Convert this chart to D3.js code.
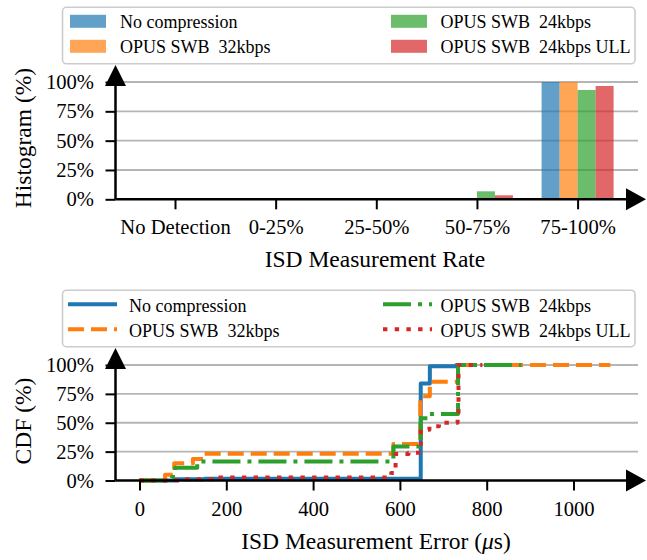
<!DOCTYPE html>
<html lang="en">
<head>
<meta charset="UTF-8">
<script src="https://d3js.org/d3.v7.min.js"></script>
<title>ISD measurement</title>
<style>
    body { margin: 0; background: white; }
    svg text { font-family: "Liberation Serif", "Times New Roman", serif; fill: black; }
</style>
</head>
<body>
<svg id="chart"></svg>
<script>
// ---- data ----
const seriesNames = ["No compression", "OPUS SWB  32kbps", "OPUS SWB  24kbps", "OPUS SWB  24kbps ULL"];
const categories = ["No Detection", "0-25%", "25-50%", "50-75%", "75-100%"];

// histogram of measurement rate (%)
const histNoComp = [0, 0, 0, 0, 100];
const hist32 = [0, 0, 0, 0, 100];
const hist24 = [0, 0, 0, 6.8, 93.2];
const hist24Ull = [0, 0, 0, 3.4, 96.6];

// CDF step points: [error in us, cdf %]
const cdfNoComp = [[0, 0], [80, 1], [150, 1.5], [648, 84], [669, 99], [730, 100], [732, 100]];
const cdf32 = [[0, 0], [59, 5], [80, 15], [123, 18.6], [147, 23.2], [585, 31.6], [647, 73], [669, 85.5], [734, 100], [1085, 100]];
const cdf24 = [[0, 0], [75, 3], [82, 11], [133, 16.5], [585, 29.5], [648, 53.8], [669, 57.6], [734, 100], [880, 100]];
const cdf24Ull = [[0, 0], [100, 1], [170, 2.5], [580, 6.5], [590, 23], [620, 24], [648, 44], [668, 47], [690, 50], [733, 54], [735, 100], [790, 100]];

const yTicks = [0, 25, 50, 75, 100];
const xTicksCdf = [0, 200, 400, 600, 800, 1000];

const colors = ["#1f77b4", "#ff7f0e", "#2ca02c", "#d62728"];
const dashes = [null, "16,7", "28,7,4,7", "4.4,7.3"];

const w = 647, h = 560;
const svg = d3.select("#chart").attr("width", w).attr("height", h);

const gridColor = "#b5b5b5";

function drawGrid(x0, yScale) {
    svg.append("g").selectAll("line")
        .data(yTicks.slice(1))
        .join("line")
        .attr("x1", x0).attr("x2", 638)
        .attr("y1", d => yScale(d)).attr("y2", d => yScale(d))
        .attr("stroke", gridColor).attr("stroke-width", 1.8);
}

function drawArrows(x0, y0, topTip, rightTip) {
    svg.append("line").attr("x1", x0).attr("x2", x0).attr("y1", y0).attr("y2", topTip + 10)
        .attr("stroke", "black").attr("stroke-width", 2.5);
    svg.append("line").attr("x1", x0).attr("x2", rightTip - 10).attr("y1", y0).attr("y2", y0)
        .attr("stroke", "black").attr("stroke-width", 2.5);
    svg.append("path")
        .attr("d", `M${x0},${topTip} L${x0 - 10.5},${topTip + 21} L${x0 + 10.5},${topTip + 21} Z`)
        .attr("fill", "black");
    svg.append("path")
        .attr("d", `M${rightTip},${y0} L${rightTip - 20},${y0 - 11} L${rightTip - 20},${y0 + 11} Z`)
        .attr("fill", "black");
}

function styleAxis(g) {
    g.select(".domain").remove();
    g.selectAll(".tick line").attr("stroke", "black").attr("stroke-width", 2);
    g.selectAll(".tick text").style("font-size", "20.6px").attr("fill", "black");
}

function legend(y0, kind) {
    const g = svg.append("g");
    g.append("rect")
        .attr("x", 62.5).attr("y", y0).attr("width", 572.5).attr("height", 56.5)
        .attr("rx", 4).attr("fill", "white").attr("fill-opacity", 0.8)
        .attr("stroke", "#cccccc").attr("stroke-width", 1.6);
    seriesNames.forEach((name, i) => {
        const col = (i === 0 || i === 1) ? 0 : 1;
        const row = (i === 0 || i === 2) ? 0 : 1;
        const rowY = y0 + 14 + row * 25;
        if (kind === "patch") {
            const px = col === 0 ? 70 : 391;
            g.append("rect").attr("x", px).attr("y", rowY - 6.5).attr("width", 36).attr("height", 13)
                .attr("fill", colors[i]).attr("fill-opacity", 0.7);
            g.append("text").attr("x", col === 0 ? 120 : 440.5).attr("y", rowY + 7)
                .style("font-size", "18px").style("white-space", "pre").text(name);
        } else {
            const px = col === 0 ? 68 : 383;
            g.append("line").attr("x1", px).attr("x2", px + 49).attr("y1", rowY).attr("y2", rowY)
                .attr("stroke", colors[i]).attr("stroke-width", 4)
                .attr("stroke-dasharray", dashes[i]);
            g.append("text").attr("x", col === 0 ? 129 : 440.5).attr("y", rowY + 7.5)
                .style("font-size", "18px").style("white-space", "pre").text(name);
        }
    });
}

// ---- top: histogram ----
const xTop = d3.scalePoint().domain(categories).range([175, 577.6]);
const yTop = d3.scaleLinear().domain([0, 100]).range([199.3, 82]);
const barW = 18;
const histSeries = [histNoComp, hist32, hist24, hist24Ull];

drawGrid(115.5, yTop);

histSeries.forEach((vals, i) => {
    svg.append("g").selectAll("rect")
        .data(vals.map((v, j) => ({ cat: categories[j], v: v })).filter(d => d.v > 0))
        .join("rect")
        .attr("x", d => xTop(d.cat) + (i - 2) * barW)
        .attr("width", barW)
        .attr("y", d => yTop(d.v))
        .attr("height", d => yTop(0) - yTop(d.v))
        .attr("fill", colors[i]).attr("fill-opacity", 0.7);
});

const gyTop = svg.append("g").attr("transform", "translate(115.5,0)")
    .call(d3.axisLeft(yTop).tickValues(yTicks).tickSize(10).tickPadding(11.5).tickFormat(d => d + "%"));
styleAxis(gyTop);
const gxTop = svg.append("g").attr("transform", `translate(0,${yTop(0)})`)
    .call(d3.axisBottom(xTop).tickSize(10).tickPadding(10));
styleAxis(gxTop);

drawArrows(115.5, yTop(0), 65, 646);

svg.append("text").attr("x", 375).attr("y", 267).attr("text-anchor", "middle")
    .style("font-size", "23.5px").text("ISD Measurement Rate");
svg.append("text").attr("transform", "translate(31,138) rotate(-90)").attr("text-anchor", "middle")
    .style("font-size", "23.5px").text("Histogram (%)");

legend(7.3, "patch");

// ---- bottom: CDF ----
const xBot = d3.scaleLinear().domain([0, 1000]).range([139.5, 573.5]);
const yBot = d3.scaleLinear().domain([0, 100]).range([480.5, 365]);

drawGrid(115.5, yBot);

const line = d3.line()
    .x(d => xBot(d[0]))
    .y(d => yBot(d[1]))
    .curve(d3.curveStepAfter);

[cdfNoComp, cdf32, cdf24, cdf24Ull].forEach((pts, i) => {
    svg.append("path")
        .attr("d", line(pts))
        .attr("fill", "none")
        .attr("stroke", colors[i])
        .attr("stroke-width", 4)
        .attr("stroke-linejoin", "round")
        .attr("stroke-dasharray", dashes[i]);
});

const gyBot = svg.append("g").attr("transform", "translate(115.5,0)")
    .call(d3.axisLeft(yBot).tickValues(yTicks).tickSize(10).tickPadding(11.5).tickFormat(d => d + "%"));
styleAxis(gyBot);
const gxBot = svg.append("g").attr("transform", `translate(0,${yBot(0)})`)
    .call(d3.axisBottom(xBot).tickValues(xTicksCdf).tickSize(10).tickPadding(11).tickFormat(d3.format("d")));
styleAxis(gxBot);

drawArrows(115.5, yBot(0), 348, 646);

const xl = svg.append("text").attr("x", 376).attr("y", 549).attr("text-anchor", "middle")
    .style("font-size", "23.5px");
xl.append("tspan").text("ISD Measurement Error (");
xl.append("tspan").style("font-style", "italic").text("\u03bc");
xl.append("tspan").text("s)");
svg.append("text").attr("transform", "translate(31,421) rotate(-90)").attr("text-anchor", "middle")
    .style("font-size", "23.5px").text("CDF (%)");

legend(290.2, "line");
</script>
</body>
</html>
